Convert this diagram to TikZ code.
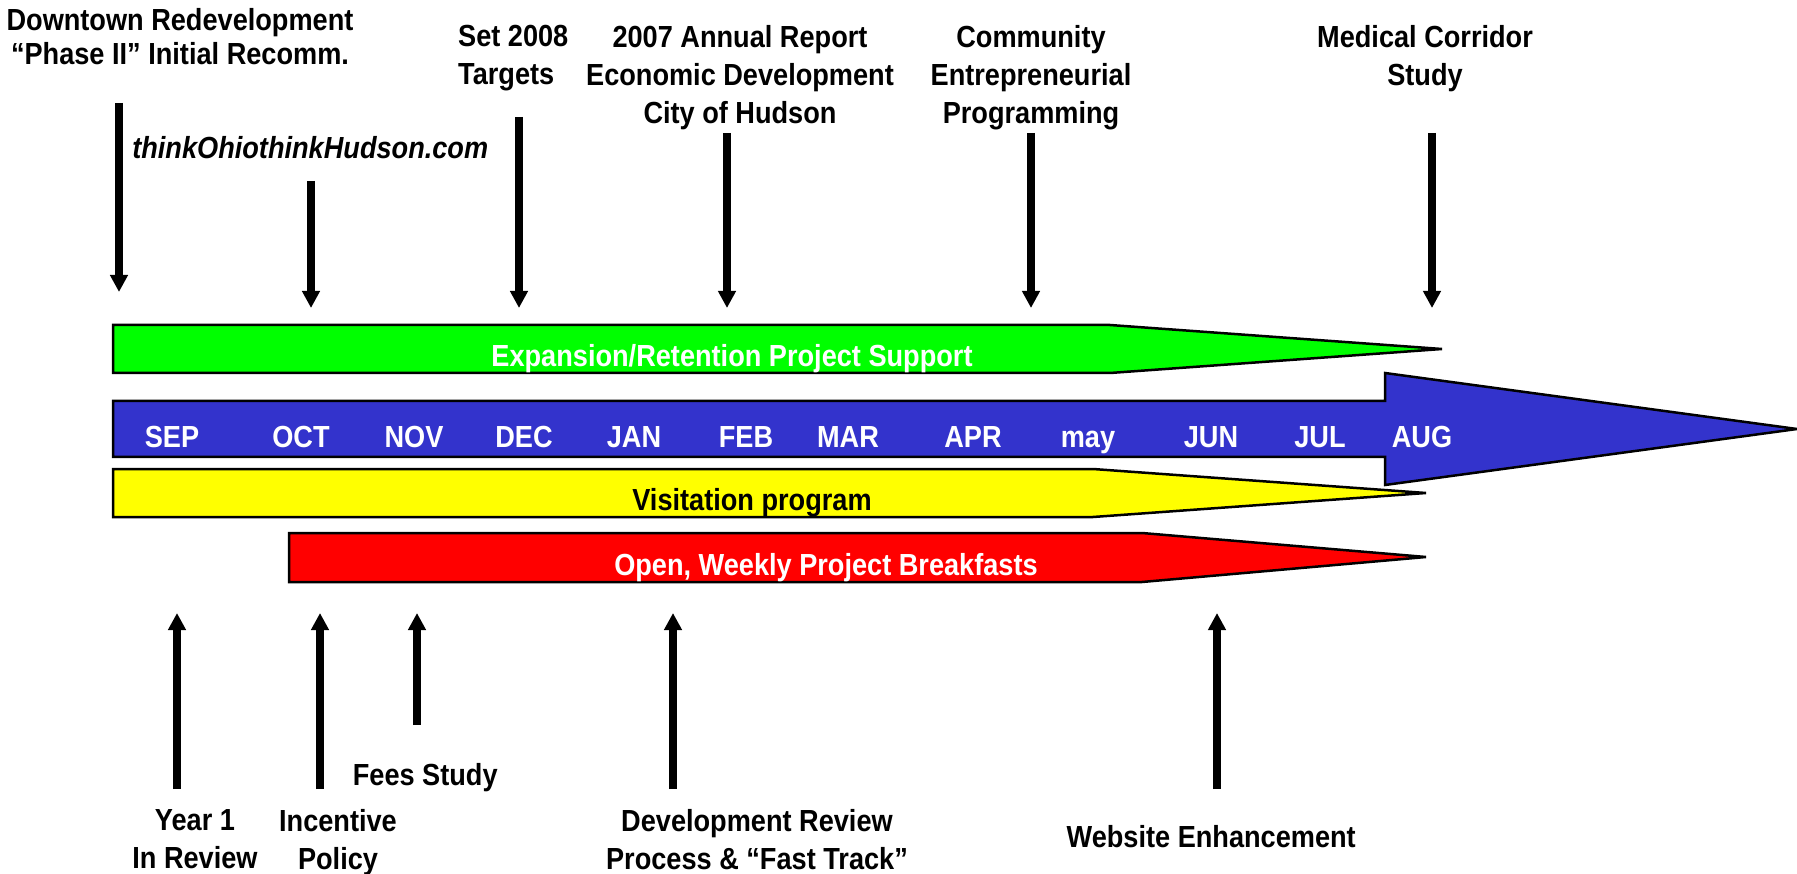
\documentclass[tikz,border=0pt]{standalone}
\usepackage{fontspec}
\setmainfont{Liberation Sans}[FakeStretch=0.89]
\usetikzlibrary{arrows.meta,positioning}

\definecolor{barblue}{RGB}{51,51,204}
\definecolor{bargreen}{RGB}{0,255,0}
\definecolor{baryellow}{RGB}{255,255,0}
\definecolor{barred}{RGB}{255,0,0}

\begin{document}
\begin{tikzpicture}
[
    x = 1pt, y = -1pt,
    toplabel/.style   = {align=center,
                         inner sep=0pt,
                         anchor=north,
                         font=\fontsize{30.5}{38}\selectfont\bfseries},
    monthlabel/.style = {inner sep=0pt,
                         anchor=base,
                         text=white,
                         font=\fontsize{30.5}{38}\selectfont\bfseries},
    barshape/.style   = {draw=black,
                         line width=2.5pt},
    arr/.style        = {line width=8pt,
                         -{Triangle[width=17pt,length=17pt]}}
]
\useasboundingbox (0,0) rectangle (1797,874);

% bars
\draw[barshape, fill=bargreen] (113,325) -- (1110,325) -- (1442,349)
    -- (1110,373) -- (113,373) -- cycle;
\draw[barshape, fill=barblue] (113,401) -- (1385,401) -- (1385,373)
    -- (1797,429) -- (1385,485) -- (1385,457) -- (113,457) -- cycle;
\draw[barshape, fill=baryellow] (113,469) -- (1093,469) -- (1426,493)
    -- (1093,517) -- (113,517) -- cycle;
\draw[barshape, fill=barred] (289,533) -- (1142,533) -- (1426,557)
    -- (1142,582) -- (289,582) -- cycle;

\node (g1) [monthlabel] at (732,367) {Expansion/Retention Project Support};
\node (y1) [monthlabel, text=black] at (752,510) {Visitation program};
\node (r1) [monthlabel] at (826,575) {Open, Weekly Project Breakfasts};

% months
\node (m1)  [monthlabel] at (172,447)  {SEP};
\node (m2)  [monthlabel] at (301,447)  {OCT};
\node (m3)  [monthlabel] at (414,447)  {NOV};
\node (m4)  [monthlabel] at (524,447)  {DEC};
\node (m5)  [monthlabel] at (634,447)  {JAN};
\node (m6)  [monthlabel] at (746,447)  {FEB};
\node (m7)  [monthlabel] at (848,447)  {MAR};
\node (m8)  [monthlabel] at (973,447)  {APR};
\node (m9)  [monthlabel] at (1088,447) {may};
\node (m10) [monthlabel] at (1211,447) {JUN};
\node (m11) [monthlabel] at (1320,447) {JUL};
\node (m12) [monthlabel] at (1422,447) {AUG};

% top milestones
\node (t1) [toplabel, font=\fontsize{30.5}{34}\selectfont\bfseries] at (180,8) {
Downtown Redevelopment\\“Phase II” Initial Recomm.
};
\node (t2) [toplabel, anchor=north west, align=left] at (458,25) {
Set 2008\\Targets
};
\node (t3) [toplabel] at (740,25) {
2007 Annual Report\\Economic Development\\City of Hudson
};
\node (t4) [toplabel] at (1031,25) {
Community\\Entrepreneurial\\Programming
};
\node (t5) [toplabel] at (1425,25) {
Medical Corridor\\Study
};
\node (t6) [toplabel, font=\fontsize{30.5}{38}\selectfont\bfseries\itshape] at (314,136) {
thinkOhiothinkHudson.com
};

\coordinate (t1s) at (119,103);  \coordinate (t1e) at (119,292);
\coordinate (t6s) at (311,181);  \coordinate (t6e) at (311,308);
\coordinate (t2s) at (519,117);  \coordinate (t2e) at (519,308);
\coordinate (t3s) at (727,133);  \coordinate (t3e) at (727,308);
\coordinate (t4s) at (1031,133); \coordinate (t4e) at (1031,308);
\coordinate (t5s) at (1432,133); \coordinate (t5e) at (1432,308);

\draw[arr] (t1s) -- (t1e);
\draw[arr] (t6s) -- (t6e);
\draw[arr] (t2s) -- (t2e);
\draw[arr] (t3s) -- (t3e);
\draw[arr] (t4s) -- (t4e);
\draw[arr] (t5s) -- (t5e);

% bottom milestones
\node (b1) [toplabel] at (195,809) {
Year 1\\In Review
};
\node (b2) [toplabel] at (338,809) {
Incentive\\Policy
};
\node (b3) [toplabel] at (429,763) {
Fees Study
};
\node (b4) [toplabel] at (757,809) {
Development Review\\Process \& “Fast Track”
};
\node (b5) [toplabel] at (1215,825) {
Website Enhancement
};

\coordinate (b1s) at (177,789);  \coordinate (b1e) at (177,613);
\coordinate (b2s) at (320,789);  \coordinate (b2e) at (320,613);
\coordinate (b3s) at (417,725);  \coordinate (b3e) at (417,613);
\coordinate (b4s) at (673,789);  \coordinate (b4e) at (673,613);
\coordinate (b5s) at (1217,789); \coordinate (b5e) at (1217,613);

\draw[arr] (b1s) -- (b1e);
\draw[arr] (b2s) -- (b2e);
\draw[arr] (b3s) -- (b3e);
\draw[arr] (b4s) -- (b4e);
\draw[arr] (b5s) -- (b5e);

\end{tikzpicture}
\end{document}
